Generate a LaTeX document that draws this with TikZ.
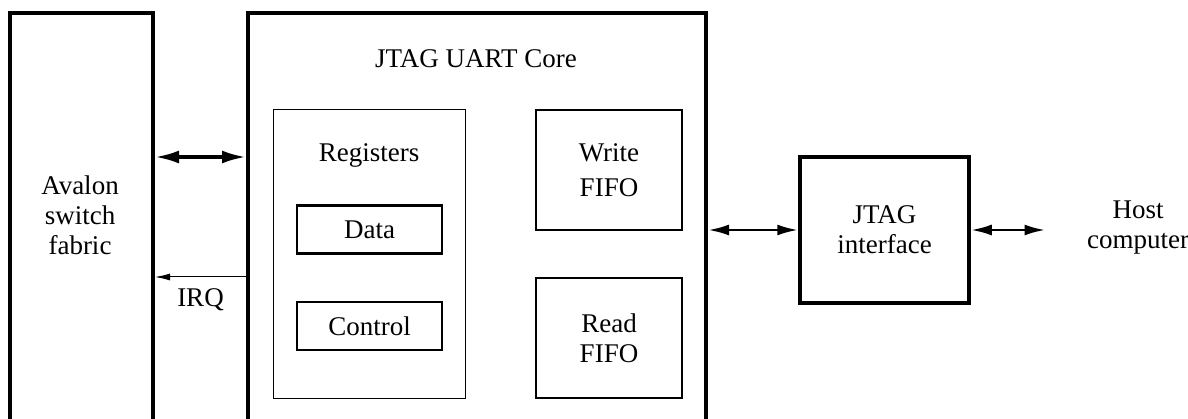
\documentclass[tikz,border=0pt]{standalone}
\usepackage{fontspec}
\setmainfont{Liberation Serif}
\usetikzlibrary{arrows.meta}
\begin{document}
\begin{tikzpicture}[x=1pt, y=-1pt, every node/.style={font=\fontsize{27}{30}\selectfont, align=center}]
        \tikzstyle{outer-box}=[draw, line width=4pt, minimum height=430pt]
        \tikzstyle{reg-group}=[draw, line width=1pt, minimum width=192pt, minimum height=288pt]
        \tikzstyle{reg-box}=[draw, line width=2.5pt, minimum width=145pt, minimum height=48pt]
        \tikzstyle{fifo-box}=[draw, line width=2.5pt, minimum width=146pt, minimum height=120pt]
        \tikzstyle{bus}=[{Latex[length=24pt, width=13pt]}-{Latex[length=24pt, width=13pt]}, line width=3.5pt]
        \tikzstyle{link}=[{Latex[length=21pt, width=11pt]}-{Latex[length=21pt, width=11pt]}, line width=2.8pt]
        \tikzstyle{irq}=[-{Latex[length=15pt, width=7pt]}, line width=1pt]

        \useasboundingbox (0, 0) rectangle (1188, 419);
        \clip (0, 0) rectangle (1188, 419);

        % the two tall boxes run off the bottom edge
        \node[outer-box, minimum width=143pt] (avalon) at (81.5, 228) {};
        \node (avalon-text) at (80, 215) {Avalon\\switch\\fabric};
        \node[outer-box, minimum width=458pt] (core) at (477, 228) {};
        \node (core-title) at (476, 59) {JTAG UART Core};

        \node[reg-group] (registers) at (369, 254) {};
        \node (registers-text) at (369, 155) {Registers};
        \node[reg-box] (data) at (369.5, 229.5) {Data};
        \node[reg-box] (control) at (369.5, 326) {Control};

        \node[fifo-box] (write-fifo) at (609, 170) {Write\\[5pt]FIFO};
        \node[fifo-box] (read-fifo) at (609, 338) {Read\\FIFO};

        \node[draw, line width=3.5pt, minimum width=169pt, minimum height=146pt] (jtag) at (884.5, 230) {JTAG\\interface};
        \node (host) at (1138, 228) {Host\\computer};

        \draw[bus] (avalon.east |- 0, 157) -- (core.west |- 0, 157);
        \draw[irq] (core.west |- 0, 277) -- node[below=8pt] {IRQ} (avalon.east |- 0, 277);
        \draw[link] (core.east |- jtag.west) -- (jtag.west);
        \draw[link, shorten >=38pt] (jtag.east) -- (host.west |- jtag.east);
    \end{tikzpicture}
\end{document}
